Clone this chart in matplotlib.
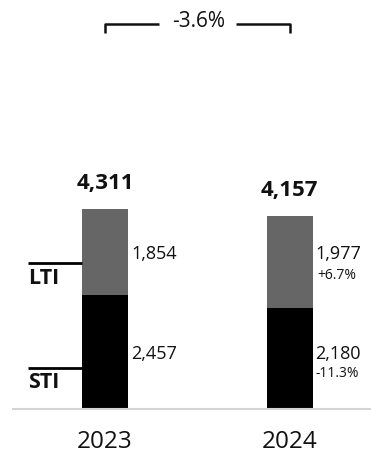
import matplotlib
matplotlib.use("Agg")
import matplotlib.pyplot as plt

# --- Data ---
years = ["2023", "2024"]
sti = [2457, 2180]
lti = [1854, 1977]
sti_change = [None, "-11.3%"]
lti_change = [None, "+6.7%"]
total_change = "-3.6%"

plt.rcParams['font.family'] = ['Open Sans', 'DejaVu Sans']

W, H, DPI = 371, 459, 100
fig = plt.figure(figsize=(W / DPI, H / DPI), dpi=DPI)

# axes: bottom at the baseline, top at the figure top
base_px = 409
px_per_unit = 200 / 4311          # bar height scale
ax = fig.add_axes([0, (H - base_px) / H, 1, base_px / H])
ax.set_ylim(0, base_px / px_per_unit)
x_step = 184.5                     # px between bar centres
x0 = 105
ax.set_xlim(-x0 / x_step, (W - x0) / x_step)
ax.axis('off')

def px_x(p):
    return p / x_step

def px_y(p):
    return p / px_per_unit

bw = 46 / x_step
xs = list(range(len(years)))
totals = [s + l for s, l in zip(sti, lti)]

ax.bar(xs, sti, width=bw, color='#000000')
ax.bar(xs, lti, bottom=sti, width=bw, color='#666666')

# baseline
ax.plot([-px_x(92), px_x(W)], [0, 0], color='#d4d4d4', lw=1.5, clip_on=False)

txt = '#111111'
val_fs = 13
pct_fs = 10
for i in xs:
    right = i + bw / 2 + px_x(3)
    # totals
    ax.text(i, totals[i] + px_y(26), f"{totals[i]:,}", ha='center', va='center',
            fontsize=16, fontweight='bold', color=txt)
    mid_l = sti[i] + lti[i] / 2
    mid_s = sti[i] / 2
    if lti_change[i]:
        ax.text(right, mid_l + px_y(8), f"{lti[i]:,}", ha='left', va='center',
                fontsize=val_fs, color=txt)
        ax.text(right + px_x(2), mid_l - px_y(13), lti_change[i], ha='left', va='center',
                fontsize=pct_fs, color=txt)
    else:
        ax.text(right, mid_l - px_y(2), f"{lti[i]:,}", ha='left', va='center',
                fontsize=val_fs, color=txt)
    if sti_change[i]:
        ax.text(right, mid_s + px_y(4), f"{sti[i]:,}", ha='left', va='center',
                fontsize=val_fs, color=txt)
        ax.text(right, mid_s - px_y(15), sti_change[i], ha='left', va='center',
                fontsize=pct_fs, color=txt)
    else:
        ax.text(right, mid_s - px_y(2), f"{sti[i]:,}", ha='left', va='center',
                fontsize=val_fs, color=txt)
    # year labels
    ax.text(i, -px_y(33), years[i], ha='center', va='center', fontsize=17.5, color=txt)

# LTI / STI leader lines on the first bar
left_edge = xs[0] - bw / 2
line_x0 = -px_x(x0 - 28)
for name, yv in [("LTI", sti[0] + lti[0] * 0.37), ("STI", sti[0] * 0.36)]:
    ax.plot([line_x0, left_edge], [yv, yv], color='#000000', lw=2, solid_capstyle='butt')
    ax.text(line_x0, yv - px_y(15), name, ha='left', va='center',
            fontsize=15.5, fontweight='bold', color=txt)

# bracket with total change
by = px_y(base_px - 24)
tick = px_y(9)
gap_l, gap_r = px_x(159 - x0), px_x(236 - x0)
kw = dict(color='#111111', lw=1.8, solid_capstyle='butt', clip_on=False)
ax.plot([xs[0], xs[0], gap_l], [by - tick, by, by], **kw)
ax.plot([gap_r, xs[1], xs[1]], [by, by, by - tick], **kw)
ax.text((xs[0] + xs[1]) / 2 + px_x(1), by + px_y(2), total_change, ha='center', va='center',
        fontsize=15, color=txt)

fig.savefig("out.png", dpi=DPI)
